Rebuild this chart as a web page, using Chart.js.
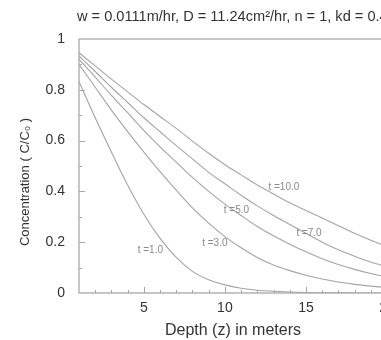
<!DOCTYPE html>
<html><head><meta charset="utf-8">
<script src="https://cdn.jsdelivr.net/npm/chart.js@4"></script>
<style>
html,body{margin:0;padding:0;overflow:hidden;background:#fff;width:381px;height:340px}
#wrap{width:420px;height:340px;position:relative}
</style></head>
<body><div id="wrap"><canvas id="c" width="420" height="340"></canvas></div>
<script>
const titleText = 'w = 0.0111m/hr, D = 11.24cm\u00B2/hr, n = 1, kd = 0.4';
const xTitle = 'Depth (z) in meters';
const yTitle = 'Concentration ( C/C\u2080 )';
const depth = [1,2,3,4,5,6,7,8,9,10,11,12,13,14,15,16,17,18,19,20];
const c_t1  = [0.832,0.69,0.555,0.425,0.31,0.215,0.14,0.085,0.052,0.032,0.019,0.011,0.007,0.004,0.002,0.001,0.001,0,0,0];
const c_t3  = [0.90,0.81,0.72,0.635,0.555,0.478,0.405,0.335,0.275,0.222,0.178,0.14,0.11,0.088,0.07,0.055,0.043,0.034,0.027,0.021];
const c_t5  = [0.92,0.85,0.778,0.71,0.64,0.575,0.515,0.455,0.4,0.35,0.305,0.262,0.225,0.192,0.162,0.135,0.112,0.093,0.077,0.063];
const c_t7  = [0.933,0.872,0.81,0.75,0.69,0.635,0.58,0.528,0.475,0.43,0.385,0.343,0.305,0.27,0.235,0.2,0.17,0.145,0.122,0.103];
const c_t10 = [0.946,0.894,0.842,0.792,0.742,0.695,0.648,0.598,0.55,0.505,0.465,0.425,0.39,0.355,0.325,0.295,0.265,0.235,0.208,0.183];
const seriesNames = ['t =1.0','t =3.0','t =5.0','t =7.0','t =10.0'];
const seriesData = [c_t1,c_t3,c_t5,c_t7,c_t10];
// label anchor (depth, concentration) for each curve label
const labelDepth = [5.4, 9.38, 10.71, 15.19, 13.64];
const labelConc  = [0.169, 0.197, 0.327, 0.236, 0.417];
const xTickVals = [5,10,15,20];
const yTickVals = [0,0.2,0.4,0.6,0.8,1];
const xMinorVals = [2,3,4,5,6,7,8,9,10,11,12,13,14,15,16,17,18,19,20];
const yMinorVals = [0.1,0.2,0.3,0.4,0.5,0.6,0.7,0.8,0.9];

const FONT = '"Liberation Sans", Arial, Helvetica, sans-serif';
const LINE = '#a4a4a4';
const AXIS = '#a8a8a8';
const TEXT = '#333333';

const decor = {
  id:'decor',
  afterDatasetsDraw(chart){
    const {ctx, chartArea:a, scales:{x,y}} = chart;
    ctx.save();
    ctx.strokeStyle = AXIS; ctx.lineWidth = 1.3;
    ctx.strokeRect(a.left, a.top, a.right - a.left, a.bottom - a.top);
    ctx.lineWidth = 1;
    ctx.beginPath();
    xMinorVals.forEach(v=>{
      const px = Math.round(x.getPixelForValue(v))+0.5;
      const len = xTickVals.includes(v) ? 6 : 3;
      ctx.moveTo(px, a.bottom); ctx.lineTo(px, a.bottom - len);
    });
    yMinorVals.forEach(v=>{
      const py = Math.round(y.getPixelForValue(v))+0.5;
      const len = yTickVals.includes(Math.round(v*10)/10) ? 6 : 3;
      ctx.moveTo(a.left, py); ctx.lineTo(a.left + len, py);
    });
    ctx.stroke();
    ctx.fillStyle = '#8a8a8a';
    ctx.font = '10px ' + FONT;
    ctx.textAlign = 'center'; ctx.textBaseline = 'middle';
    seriesNames.forEach((n,i)=>{
      ctx.fillText(n, x.getPixelForValue(labelDepth[i]), y.getPixelForValue(labelConc[i]));
    });
    ctx.fillStyle = TEXT;
    ctx.font = '14.6px ' + FONT;
    ctx.textAlign = 'left';
    ctx.fillText(titleText, 77, 17);
    // y axis title
    ctx.save();
    ctx.translate(25, 182);
    ctx.rotate(-Math.PI/2);
    ctx.textAlign = 'center';
    ctx.font = '13px ' + FONT;
    ctx.fillText(yTitle, 0, 0);
    ctx.restore();
    ctx.restore();
  }
};

new Chart(document.getElementById('c'), {
  type:'line',
  data:{
    datasets: seriesData.map((arr,i)=>({
      label: seriesNames[i],
      data: depth.map((z,j)=>({x:z, y:arr[j]})),
      borderColor: LINE, borderWidth: 1.1,
      pointRadius: 0, fill:false,
      cubicInterpolationMode:'monotone'
    }))
  },
  options:{
    responsive:false, animation:false, devicePixelRatio:1,
    layout:{padding:{top:39, right:33, left:0, bottom:0}},
    plugins:{legend:{display:false}, tooltip:{enabled:false}, title:{display:false}},
    scales:{
      x:{
        type:'linear', min:1, max:20,
        afterBuildTicks: s => { s.ticks = xTickVals.map(v=>({value:v})); },
        afterFit: s => { s.height = 47; },
        grid:{display:false, drawTicks:false},
        border:{display:false},
        ticks:{color:TEXT, font:{size:14, family:FONT}, padding:7, maxRotation:0},
        title:{display:true, text:xTitle, color:TEXT, font:{size:16, family:FONT}, padding:{top:0,bottom:0}}
      },
      y:{
        type:'linear', min:0, max:1,
        afterBuildTicks: s => { s.ticks = yTickVals.map(v=>({value:v})); },
        afterFit: s => { s.width = 79; },
        grid:{display:false, drawTicks:false},
        border:{display:false},
        ticks:{color:TEXT, font:{size:14, family:FONT}, padding:14, callback:v=>String(Math.round(v*10)/10)},
        title:{display:false}
      }
    }
  },
  plugins:[decor]
});
</script></body></html>
